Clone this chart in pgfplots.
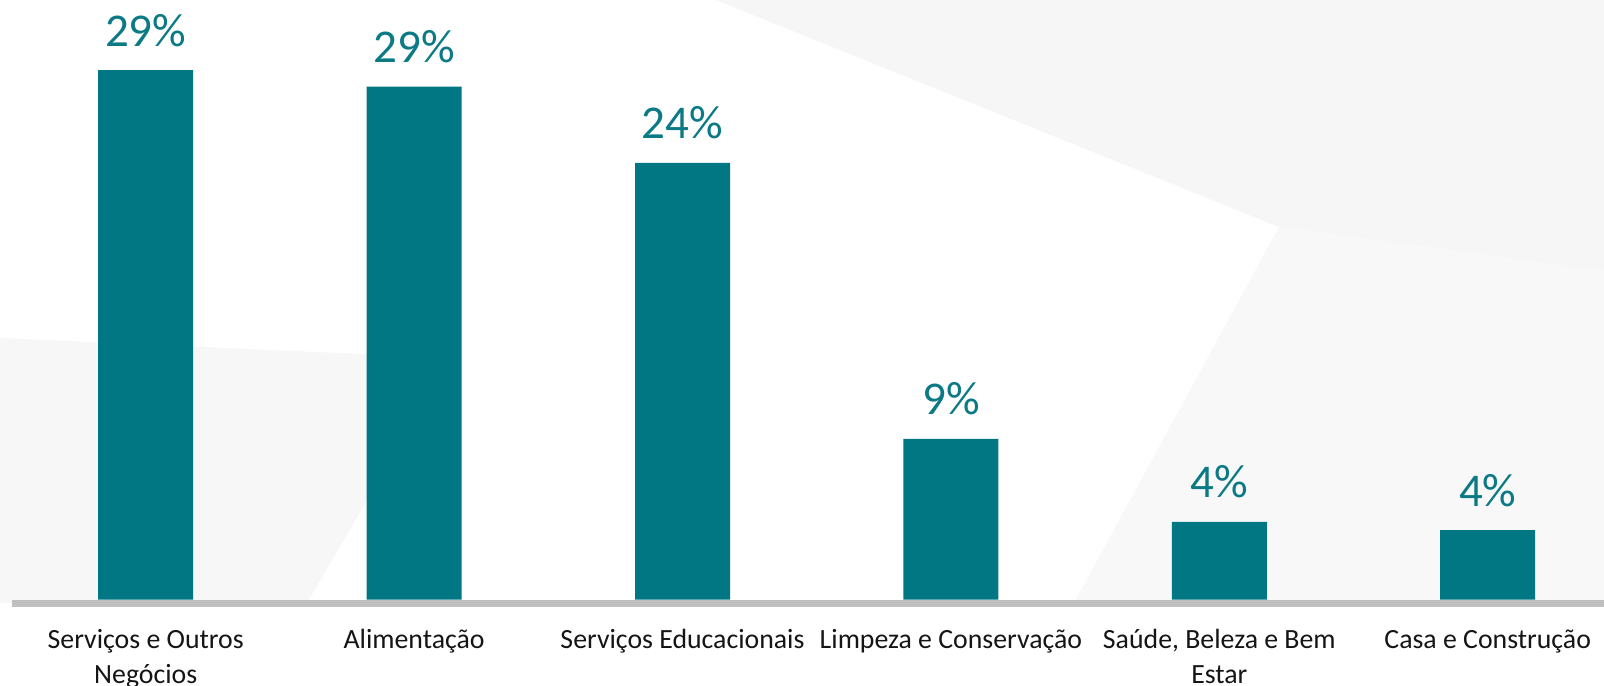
\documentclass[border=0pt]{standalone}
\usepackage{pgfplots}
\pgfplotsset{compat=1.18}
\usepackage{fontspec}
\setmainfont{Carlito}
\definecolor{barc}{HTML}{007783}
\definecolor{valc}{HTML}{0B7A85}
\definecolor{linec}{HTML}{BFBFBF}
\definecolor{txtc}{HTML}{151515}
\definecolor{bga}{HTML}{F6F6F7}
\definecolor{bgb}{HTML}{F8F8F9}
\definecolor{bgc}{HTML}{F7F7F7}
\begin{document}
\begin{tikzpicture}
\path[use as bounding box] (0,0) rectangle (802bp,343bp);
\fill[white] (0,0) rectangle (802bp,343bp);
\fill[bga] (358bp,343bp) -- (802bp,343bp) -- (802bp,207.5bp) -- (639.5bp,229.5bp) -- cycle;
\fill[bgb] (639.5bp,229.5bp) -- (802bp,207.5bp) -- (802bp,41.5bp) -- (537bp,41.5bp) -- cycle;
\fill[bgc] (0bp,174bp) -- (225bp,164bp) -- (153.5bp,41.5bp) -- (0bp,41.5bp) -- cycle;
\begin{axis}[
  at={(5.75bp,43.25bp)}, anchor=south west,
  scale only axis, width=805.2bp, height=299.75bp,
  xmin=-0.5, xmax=5.5, ymin=0, ymax=32.96,
  axis line style={draw=none},
  ytick=\empty,
  xtick={0,1,2,3,4,5},
  xticklabels={{\strut Serviços e Outros\\Negócios},{\strut Alimentação},{\strut Serviços Educacionais},{\strut Limpeza e Conservação},{\strut Saúde, Beleza e Bem\\Estar},{\strut Casa e Construção}},
  xticklabel style={align=center, anchor=north, inner sep=0pt, yshift=-11.95bp,
    font=\fontsize{13.9bp}{17.5bp}\selectfont, text=txtc},
  major tick length=0pt,
  clip=false,
  ybar, bar width=47.5bp,
  nodes near coords={\pgfplotspointmeta\%},
  every node near coord/.append style={anchor=base, inner sep=0pt, yshift=12bp,
    font=\fontsize{23.5bp}{27bp}\selectfont, text=valc},
]
\addplot[fill=barc, draw=none, point meta=explicit symbolic] table[x=x, y=y, meta=lab] {
x y lab
0 29.1 29
1 28.2 29
2 24.0 24
3 8.83 9
4 4.27 4
5 3.81 4
};
\draw[linec, line width=3.25bp] ([yshift=-1.9bp]rel axis cs:0,0) -- ([yshift=-1.9bp]rel axis cs:1,0);
\end{axis}
\end{tikzpicture}
\end{document}
